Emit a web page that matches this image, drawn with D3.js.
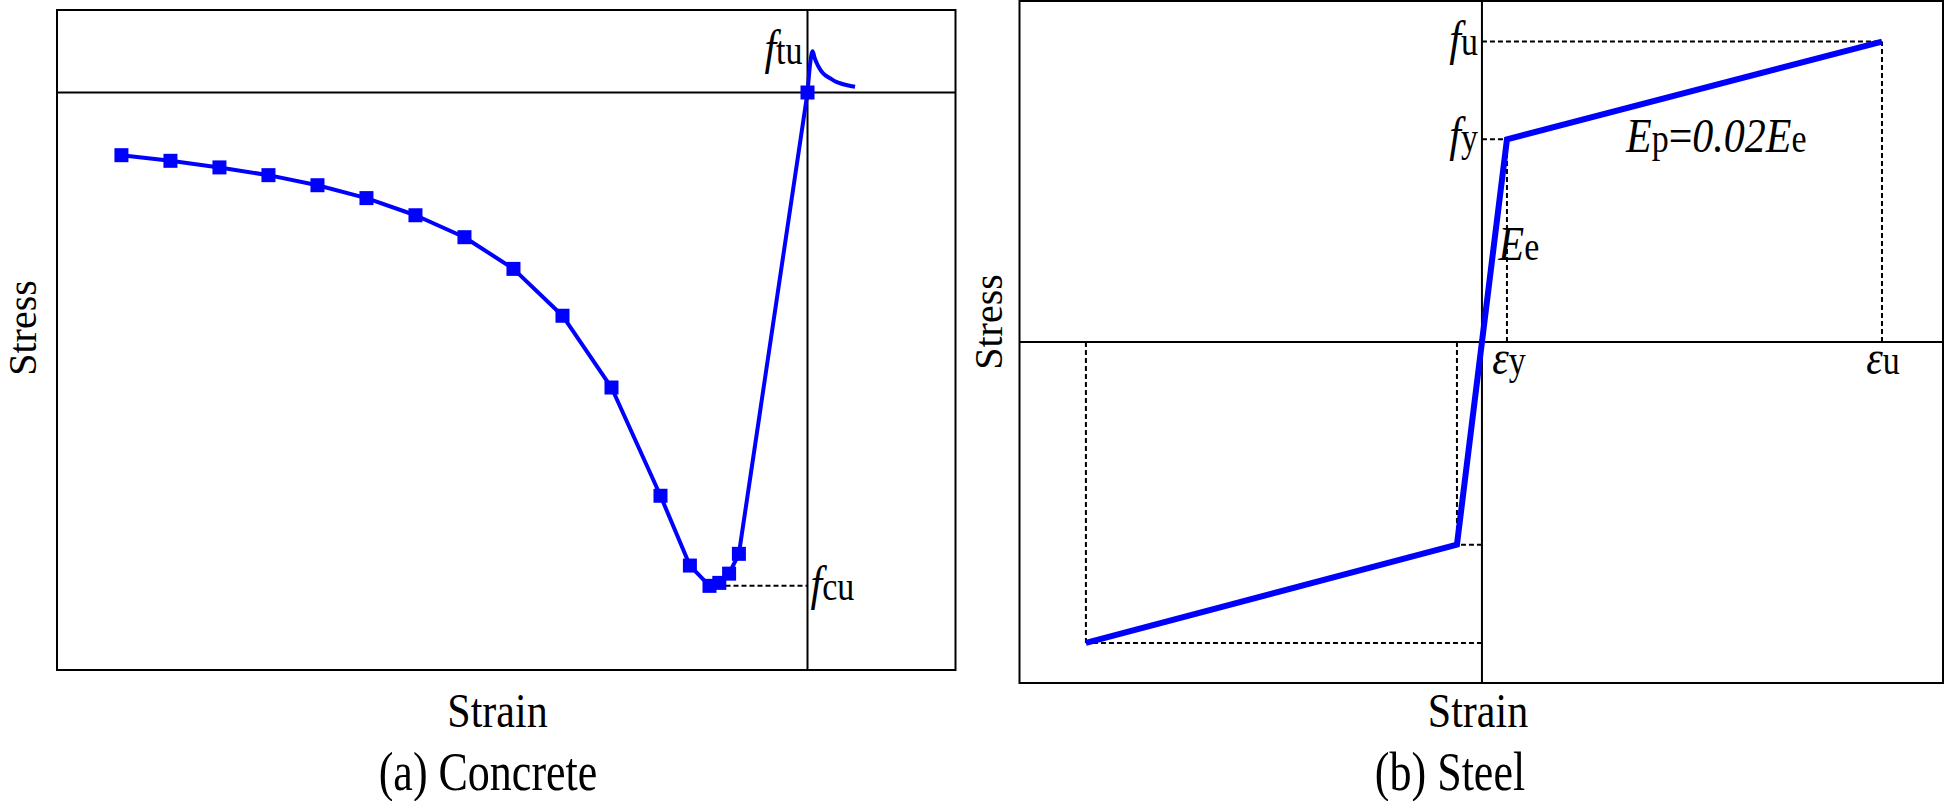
<!DOCTYPE html>
<html>
<head>
<meta charset="utf-8">
<script src="https://cdn.jsdelivr.net/npm/d3@7"></script>
<style>
  body { margin: 0; background: white; }
  svg { display: block; }
  text { font-family: "Liberation Serif", "Times New Roman", serif; fill: black; }
</style>
</head>
<body>
<svg></svg>
<script>
var WIDTH = 1946,
    HEIGHT = 801,
    LINE_COLOR = "black",
    CURVE_COLOR = "#0000ff",
    MAIN_FONT = 42,
    SUB_FONT = 34,
    STRETCH = 1.18;   // glyphs in the original are drawn taller than they are wide

// (a) concrete: compression branch (markers) and tension branch (strain in permil, stress in MPa)
var concreteStrain = [-2.8, -2.6, -2.4, -2.2, -2.0, -1.8, -1.6, -1.4, -1.2, -1.0, -0.8, -0.6, -0.48, -0.40, -0.36, -0.32, -0.28, 0];
var concreteStress = [-3.80, -4.14, -4.54, -5.01, -5.62, -6.40, -7.44, -8.77, -10.69, -13.53, -17.88, -24.44, -28.67, -29.9, -29.72, -29.16, -27.96, 0];
var tensionStrain = [0, 0.021, 0.028, 0.038, 0.048, 0.058, 0.075, 0.092, 0.112, 0.133, 0.163, 0.194];
var tensionStress = [0, 2.5, 2.15, 1.77, 1.48, 1.26, 1.02, 0.86, 0.68, 0.56, 0.44, 0.35];
var fcu = -29.9, ftu = 2.5;

// (b) steel: bilinear, symmetric in tension / compression
var steelStrain = [-0.0396, -0.0025, 0.0025, 0.04];
var steelStress = [-594, -400, 400, 593];

var svg = d3.select("svg")
    .attr("width", WIDTH)
    .attr("height", HEIGHT);

var cx = d3.scaleLinear().domain([-3.063, 0.604]).range([57, 955.5]);
var cy = d3.scaleLinear().domain([5, -35]).range([10, 670]);
var sx = d3.scaleLinear().domain([-0.04624, 0.0461]).range([1019.5, 1943]);
var sy = d3.scaleLinear().domain([673, -673]).range([1, 683]);

// label with italic main letter and upright smaller suffix
function label(g, x, y, anchor, parts) {
    var t = g.append("text")
        .attr("transform", "translate(" + x + "," + y + ") scale(1," + STRETCH + ")")
        .style("text-anchor", anchor);
    parts.forEach(function(p) {
        t.append("tspan")
            .style("font-style", p[1] ? "italic" : "normal")
            .style("font-size", (p[2] || MAIN_FONT) + "px")
            .text(p[0]);
    });
    return t;
}

function frame(g, xs, ys) {
    var xr = xs.range(), yr = ys.range();
    g.append("rect")
        .attr("x", xr[0])
        .attr("y", yr[0])
        .attr("width", xr[1] - xr[0])
        .attr("height", yr[1] - yr[0])
        .style("fill", "none")
        .style("stroke", LINE_COLOR)
        .style("stroke-width", 2);
    g.append("line")
        .attr("x1", xr[0]).attr("x2", xr[1])
        .attr("y1", ys(0)).attr("y2", ys(0))
        .style("stroke", LINE_COLOR)
        .style("stroke-width", 2);
    g.append("line")
        .attr("x1", xs(0)).attr("x2", xs(0))
        .attr("y1", yr[0]).attr("y2", yr[1])
        .style("stroke", LINE_COLOR)
        .style("stroke-width", 2);
}

function dash(g, x1, y1, x2, y2) {
    g.append("line")
        .attr("x1", x1).attr("y1", y1)
        .attr("x2", x2).attr("y2", y2)
        .style("stroke", LINE_COLOR)
        .style("stroke-width", 2)
        .style("stroke-dasharray", "5,3");
}

function titles(g, cxText, stressX, stressY, caption, capX) {
    g.append("text")
        .attr("transform", "translate(" + cxText + ",727) scale(1,1.15)")
        .style("font-size", "42px")
        .style("text-anchor", "middle")
        .text("Strain");
    g.append("text")
        .attr("transform", "translate(" + stressX + "," + stressY + ") rotate(-90)")
        .style("font-size", "40px")
        .style("text-anchor", "middle")
        .text("Stress");
    g.append("text")
        .attr("transform", "translate(" + capX + ",790) scale(1,1.25)")
        .style("font-size", "44px")
        .style("text-anchor", "middle")
        .text(caption);
}

// ---------- (a) Concrete ----------
var ga = svg.append("g").attr("id", "concrete");
frame(ga, cx, cy);

var lowIdx = concreteStress.indexOf(fcu);
dash(ga, cx(concreteStrain[lowIdx]), cy(fcu), cx(0), cy(fcu));

var comp = concreteStrain.map(function(d, i) { return [d, concreteStress[i]]; });
var tens = tensionStrain.map(function(d, i) { return [d, tensionStress[i]]; });

ga.append("path")
    .datum(comp)
    .attr("d", d3.line().x(function(d) { return cx(d[0]); }).y(function(d) { return cy(d[1]); }))
    .style("fill", "none")
    .style("stroke", CURVE_COLOR)
    .style("stroke-width", 4)
    .style("stroke-linejoin", "round");
ga.append("path")
    .datum(tens)
    .attr("d", d3.line().curve(d3.curveMonotoneX).x(function(d) { return cx(d[0]); }).y(function(d) { return cy(d[1]); }))
    .style("fill", "none")
    .style("stroke", CURVE_COLOR)
    .style("stroke-width", 4)
    .style("stroke-linejoin", "round");

var MS = 14;
ga.selectAll(".marker")
    .data(comp)
    .enter().append("rect")
    .attr("class", "marker")
    .attr("x", function(d) { return cx(d[0]) - MS / 2; })
    .attr("y", function(d) { return cy(d[1]) - MS / 2; })
    .attr("width", MS)
    .attr("height", MS)
    .style("fill", CURVE_COLOR);

label(ga, cx(0) - 5, cy(ftu) + 13, "end", [["f", true], ["tu", false, SUB_FONT]]);
label(ga, cx(0) + 3, cy(fcu) + 14, "start", [["f", true], ["cu", false, SUB_FONT]]);

titles(ga, 497.5, 36, 328, "(a) Concrete", 488);

// ---------- (b) Steel ----------
var gb = svg.append("g").attr("id", "steel");
frame(gb, sx, sy);

steelStrain.forEach(function(e, i) {
    var s = steelStress[i];
    dash(gb, sx(0), sy(s), sx(e), sy(s));
    dash(gb, sx(e), sy(0), sx(e), sy(s));
});

gb.append("path")
    .datum(steelStrain.map(function(d, i) { return [d, steelStress[i]]; }))
    .attr("d", d3.line().x(function(d) { return sx(d[0]); }).y(function(d) { return sy(d[1]); }))
    .style("fill", "none")
    .style("stroke", CURVE_COLOR)
    .style("stroke-width", 6)
    .style("stroke-linejoin", "miter");

label(gb, sx(0) - 4, sy(steelStress[3]) + 13, "end", [["f", true], ["u", false, SUB_FONT]]);
label(gb, sx(0) - 4, sy(steelStress[2]) + 12, "end", [["f", true], ["y", false, SUB_FONT]]);
label(gb, sx(steelStrain[2]) + 2, sy(0) + 32, "middle", [["\u03b5", true], ["y", false, SUB_FONT]]);
label(gb, sx(steelStrain[3]) + 1, sy(0) + 32, "middle", [["\u03b5", true], ["u", false, SUB_FONT]]);
label(gb, 1498.5, 260, "start", [["E", true], ["e", false, SUB_FONT]]);
label(gb, 1626, 152, "start", [["E", true], ["p", false, SUB_FONT], ["=", false], ["0.02", true], ["E", true], ["e", false, SUB_FONT]]);

titles(gb, 1478, 1002, 322, "(b) Steel", 1450);
</script>
</body>
</html>
